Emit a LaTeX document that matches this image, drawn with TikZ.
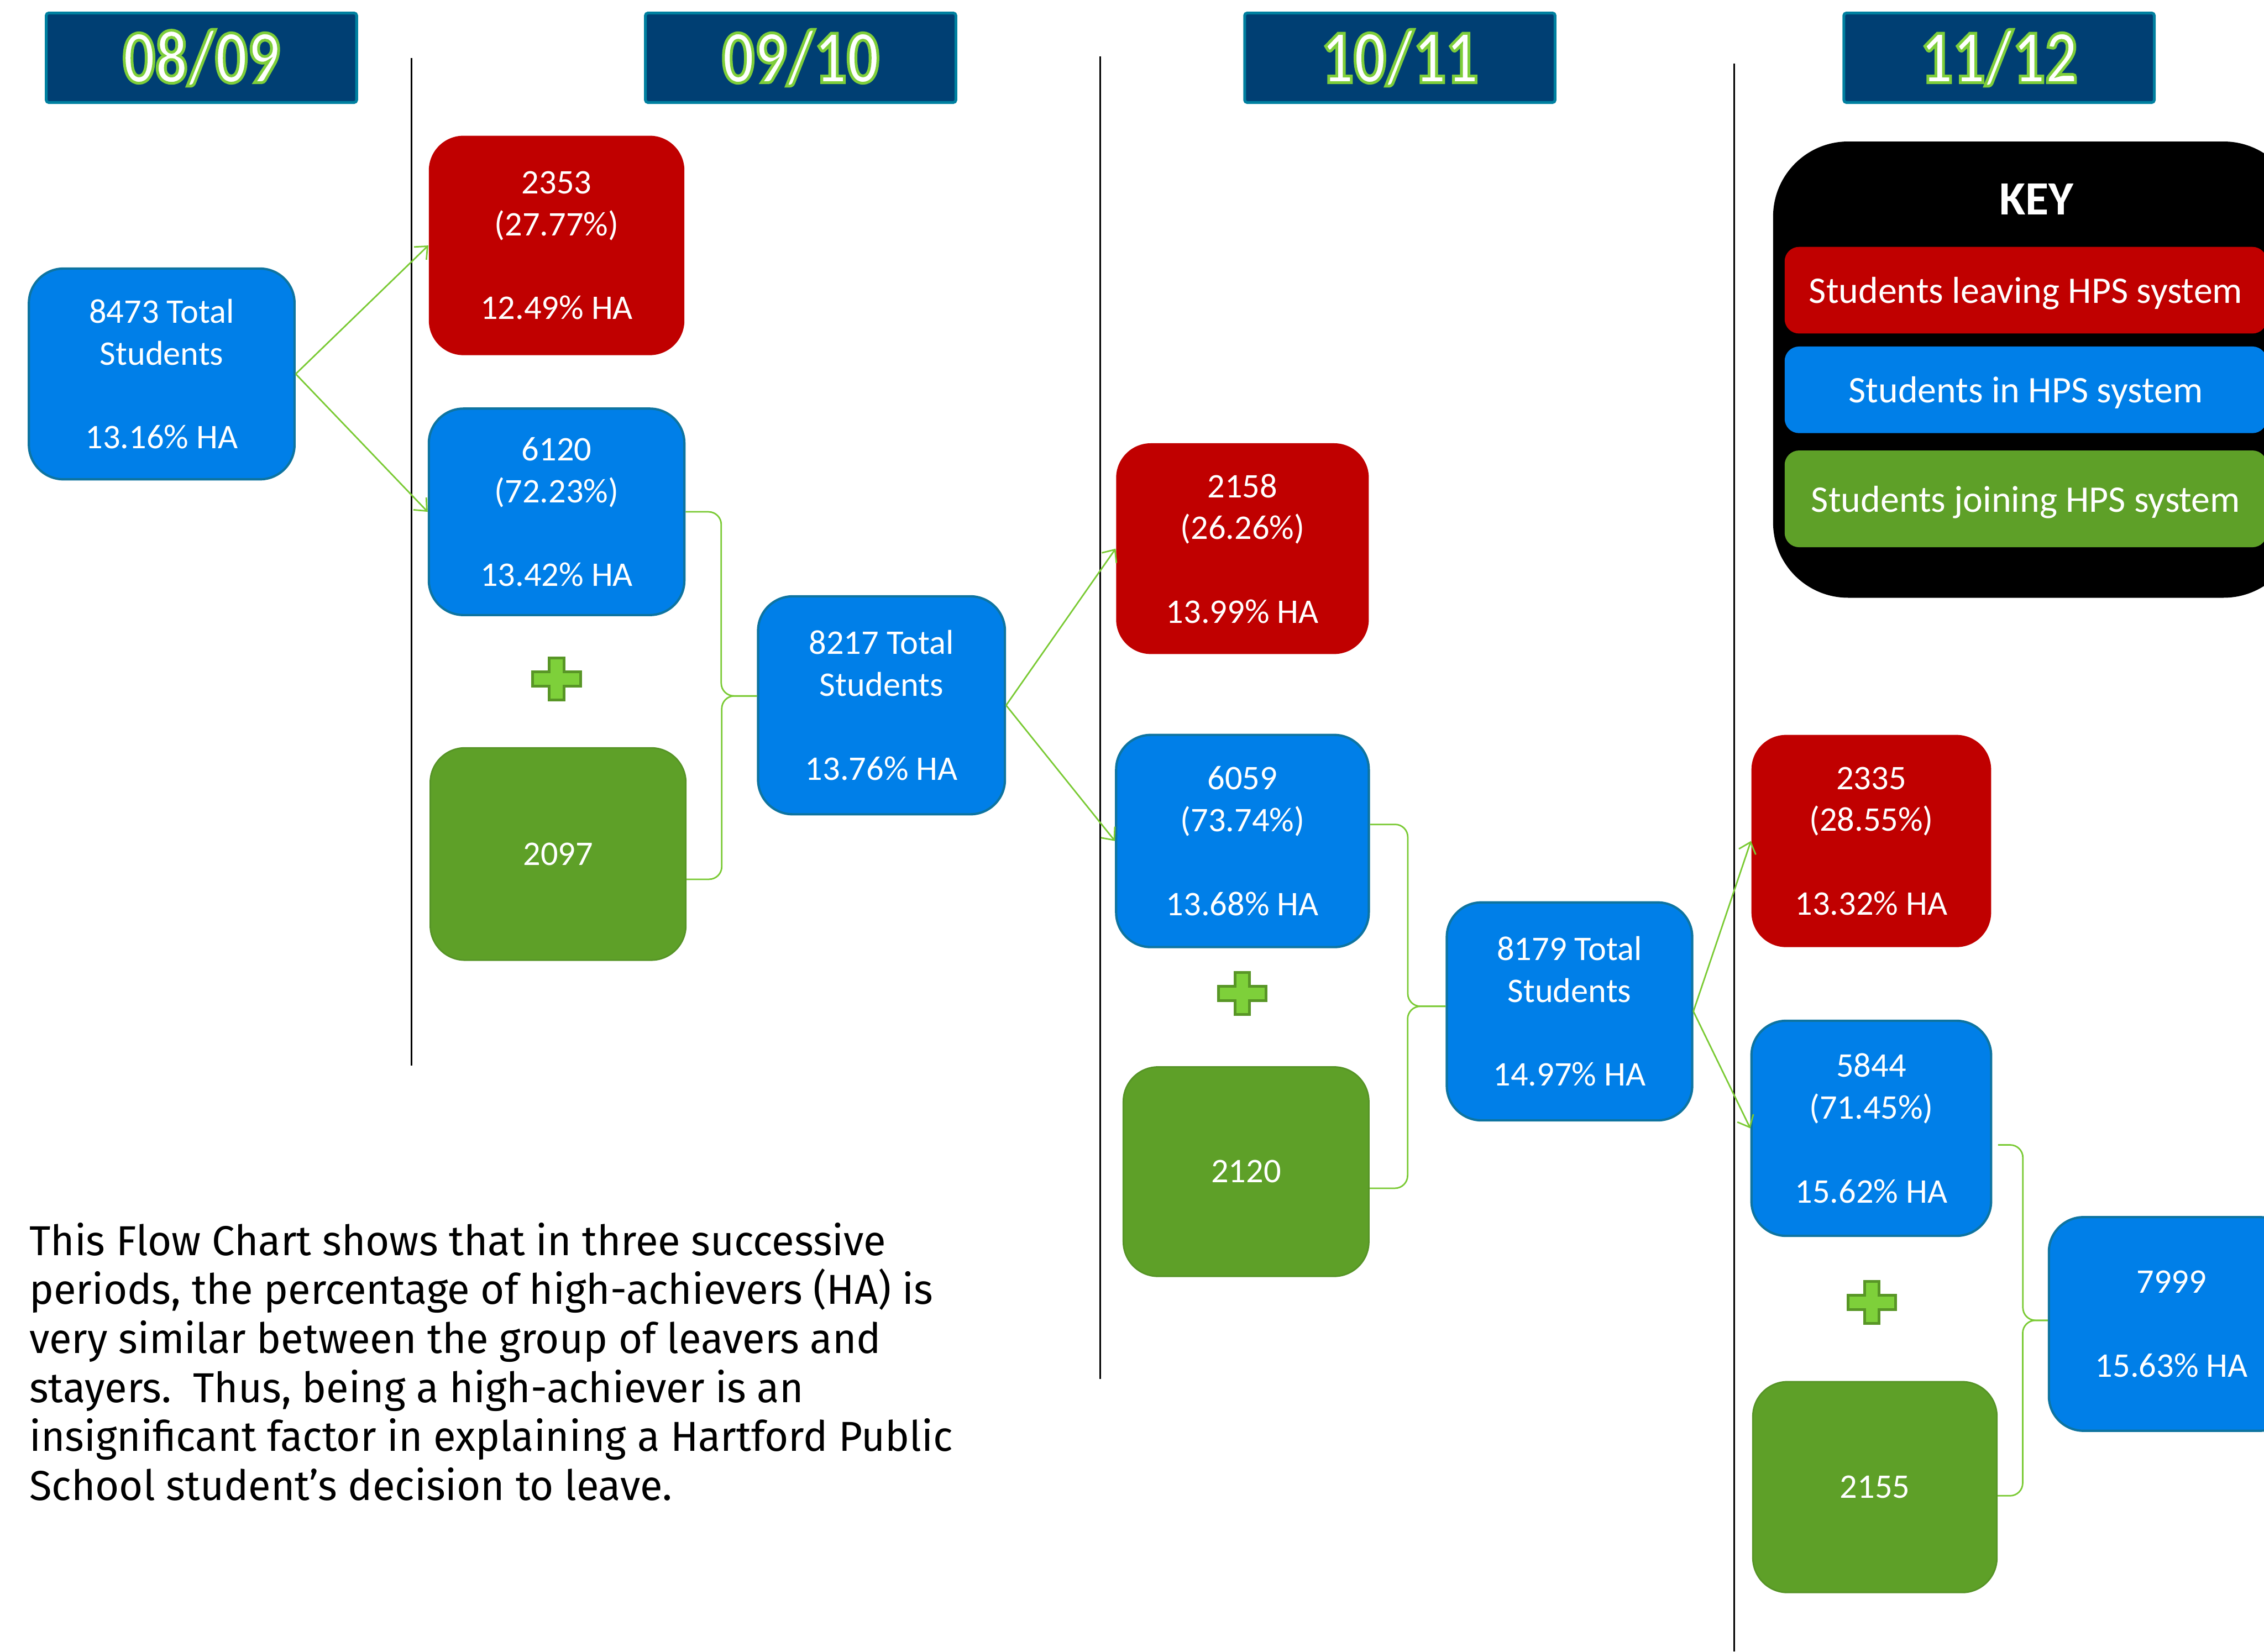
\documentclass[tikz,border=0pt]{standalone}
\usepackage{fontspec}
\setmainfont{Carlito}
\newfontfamily\hdrfont[FakeStretch=0.84]{Carlito}
\newfontfamily\notefont[FakeStretch=0.98]{Fira Sans}
\usepackage{tikz}
\usetikzlibrary{arrows.meta,calc,positioning}
\definecolor{leaveRed}{RGB}{192,0,0}
\definecolor{stayBlue}{RGB}{0,127,232}
\definecolor{stayEdge}{RGB}{14,116,160}
\definecolor{joinGreen}{RGB}{94,160,40}
\definecolor{joinEdge}{RGB}{86,148,38}
\definecolor{linkGreen}{RGB}{122,202,52}
\definecolor{hdrNavy}{RGB}{0,63,115}
\definecolor{hdrTeal}{RGB}{0,128,160}
\definecolor{plusFill}{RGB}{126,208,58}
\definecolor{plusEdge}{RGB}{88,150,38}
% white letters with a thin green rim
\newcommand\greenrim[1]{\special{pdf:code q 2 Tr 1.1 w 0.494 0.808 0.227 RG}#1\special{pdf:code Q}}

\begin{document}
\begin{tikzpicture}[x=0.02cm,y=-0.02cm,
  numbox/.style={rounded corners=0.48cm,text=white,align=center,inner sep=0pt,font=\fontsize{13.6}{16.5}\selectfont},
  dims/.style 2 args={minimum width=#1*0.02cm,minimum height=#2*0.02cm},
  leaverbox/.style={numbox,fill=leaveRed},
  stayerbox/.style={numbox,fill=stayBlue,draw=stayEdge,line width=0.9pt},
  joinerbox/.style={numbox,fill=joinGreen,draw=joinEdge,line width=0.6pt},
  hdr/.style={fill=hdrNavy,draw=hdrTeal,line width=1.1pt,rounded corners=1pt,dims={215}{62},text=white,font=\hdrfont\bfseries\fontsize{30}{30}\selectfont},
  keyentry/.style={rounded corners=0.2cm,text=white,inner sep=0pt,text depth=0pt,font=\fontsize{14.8}{17}\selectfont},
  link/.style={draw=linkGreen,line width=0.6pt},
  arr/.style={link,-{Straight Barb[length=4pt,width=7pt]}},
  brace/.style={link,rounded corners=5pt},
  plusmark/.style={fill=plusFill,draw=plusEdge,line width=1.1pt},
  sep/.style={draw=black,line width=0.6pt}]
  \useasboundingbox (0,0) rectangle (1568,1144);
  \clip (0,0) rectangle (1568,1144);

  % year headers
  \foreach \x/\a/\b [count=\i] in {139.5/08/09,554.5/09/10,969.5/10/11,1384.5/11/12}
    {\node[hdr] (hdr\i) at (\x,40) {\greenrim{\a/\b}};}

  % column separators
  \draw[sep] (285,40) -- (285,738);
  \draw[sep] (762,39) -- (762,955);
  \draw[sep] (1201,44) -- (1201,1144);

  % 08/09
  \node[stayerbox,dims={184}{146}] (n8473) at (112,259) {8473 Total\\Students\\~\\13.16\% HA};
  % 09/10
  \node[leaverbox,dims={177}{152}] (n2353) at (385.5,170) {2353\\(27.77\%)\\~\\12.49\% HA};
  \node[stayerbox,dims={177}{143}] (n6120) at (385.5,354.5) {6120\\(72.23\%)\\~\\13.42\% HA};
  \node[joinerbox,dims={177}{147}] (n2097) at (386.5,591.5) {2097};
  \node[stayerbox,dims={171}{151}] (n8217) at (610.5,488.5) {8217 Total\\Students\\~\\13.76\% HA};
  % 10/11
  \node[leaverbox,dims={175}{146}] (n2158) at (860.5,380) {2158\\(26.26\%)\\~\\13.99\% HA};
  \node[stayerbox,dims={175}{147}] (n6059) at (860.5,582.5) {6059\\(73.74\%)\\~\\13.68\% HA};
  \node[joinerbox,dims={170}{145}] (n2120) at (863,811.5) {2120};
  \node[stayerbox,dims={170}{151}] (n8179) at (1087,700.5) {8179 Total\\Students\\~\\14.97\% HA};
  % 11/12
  \node[leaverbox,dims={166}{147}] (n2335) at (1296,582.5) {2335\\(28.55\%)\\~\\13.32\% HA};
  \node[stayerbox,dims={166}{149}] (n5844) at (1296,781.5) {5844\\(71.45\%)\\~\\15.62\% HA};
  \node[joinerbox,dims={169}{146}] (n2155) at (1298.5,1030) {2155};
  \node[stayerbox,dims={170}{148}] (n7999) at (1504,917) {7999\\~\\15.63\% HA};

  % splits
  \foreach \s/\t in {n8473/n2353,n8473/n6120,n8217/n2158,n8217/n6059,n8179/n2335,n8179/n5844}
    \draw[arr] (\s.east) -- (\t.west);

  % merges
  \coordinate (b1top) at (n6120.east);
  \coordinate (b1bot) at ([yshift=-0.35cm]n2097.east);
  \coordinate (b1tip) at ([yshift=0.13cm]n8217.west);
  \coordinate (b2top) at ([yshift=0.23cm]n6059.east);
  \coordinate (b2bot) at ([yshift=-0.23cm]n2120.east);
  \coordinate (b2tip) at ([yshift=0.07cm]n8179.west);
  \coordinate (b3top) at ([xshift=0.08cm,yshift=-0.23cm]n5844.east);
  \coordinate (b3bot) at ([yshift=-0.12cm]n2155.east);
  \coordinate (b3tip) at ([yshift=0.05cm]n7999.west);
  \foreach \i in {1,2,3} {
    \draw[brace] (b\i top) -| ($(b\i top)!.5!(b\i tip)$) |- (b\i tip);
    \draw[brace] (b\i bot) -| ($(b\i bot)!.5!(b\i tip)$) |- (b\i tip);
  }

  % plus signs
  \foreach \px/\py in {385.5/470.4,860.5/688,1296.5/902}
    \draw[plusmark,shift={(\px,\py)}] (-16.5,-5) -- (-5,-5) -- (-5,-14.5) -- (5,-14.5) -- (5,-5) -- (16.5,-5)
      -- (16.5,5) -- (5,5) -- (5,14.5) -- (-5,14.5) -- (-5,5) -- (-16.5,5) -- cycle;

  % key
  \node[fill=black,rounded corners=1.04cm,dims={364}{316}] (key) at (1410,256) {};
  \node[text=white,font=\bfseries\fontsize{18.8}{20}\selectfont] (keytitle) at (1410.5,138) {KEY};
  \node[keyentry,fill=leaveRed,dims={334}{60}] (kleave) at (1403,201) {Students leaving HPS system};
  \node[keyentry,fill=stayBlue,dims={334}{60}] (kstay) at (1403,270) {Students in HPS system};
  \node[keyentry,fill=joinGreen,dims={334}{67}] (kjoin) at (1403,345.5) {Students joining HPS system};

  % note
  \node[anchor=north west,align=left,inner sep=0pt,font=\notefont\fontsize{16.5}{19.3}\selectfont] (note) at (20,846.5)
    {This Flow Chart shows that in three successive\\
     periods, the percentage of high-achievers (HA) is\\
     very similar between the group of leavers and\\
     stayers.\ \ Thus, being a high-achiever is an\\
     insignificant factor in explaining a Hartford Public\\
     School student’s decision to leave.};
\end{tikzpicture}
\end{document}
